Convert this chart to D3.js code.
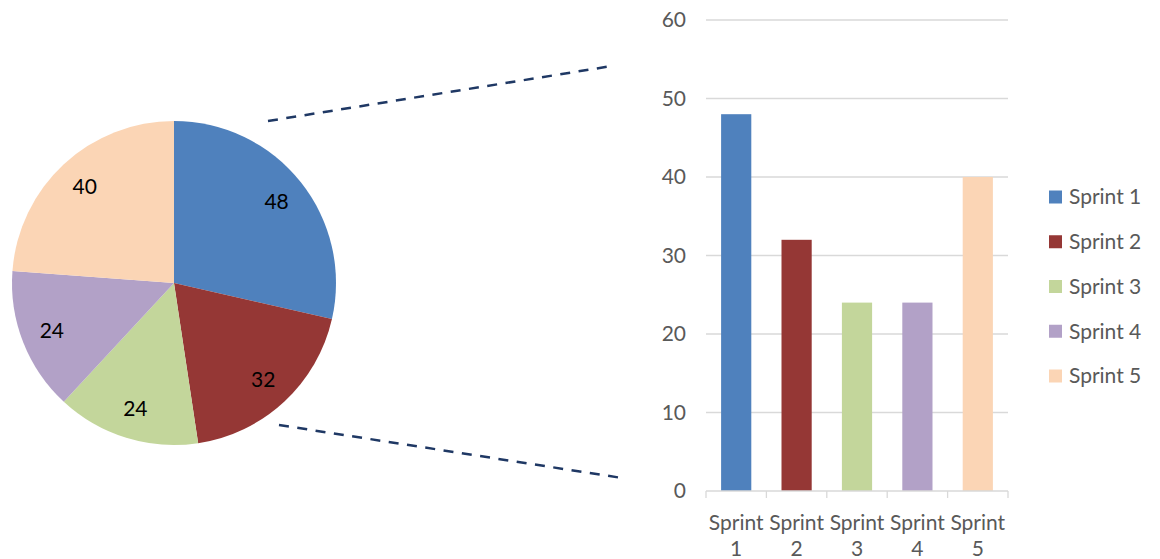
<!DOCTYPE html>
<html><head><meta charset="utf-8">
<script src="https://cdn.jsdelivr.net/npm/d3@7"></script>
<style>body{margin:0;background:#fff}svg{display:block}</style>
</head><body>
<svg id="c" width="1160" height="559"></svg>
<script>
const categories = ["Sprint 1","Sprint 2","Sprint 3","Sprint 4","Sprint 5"];
const values = [48, 32, 24, 24, 40];
const colors = ["#4F81BD","#953735","#C3D69B","#B2A1C7","#FBD5B5"];
const yTicks = [0,10,20,30,40,50,60];

const svg = d3.select("#c");
const font = "Lato, 'Noto Sans', sans-serif";

// Pie
const cx = 174, cy = 283, R = 162;
const pie = d3.pie().sort(null).value(d => d)(values);
const arc = d3.arc().innerRadius(0).outerRadius(R);
const lab = d3.arc().innerRadius(R*0.81).outerRadius(R*0.81);
const pg = svg.append("g").attr("transform", `translate(${cx},${cy})`);
pg.selectAll("path").data(pie).join("path").attr("d", arc).attr("fill", (d,i)=>colors[i]);
pg.selectAll("text").data(pie).join("text")
  .attr("transform", d => `translate(${lab.centroid(d)})`)
  .attr("text-anchor","middle").attr("dy","0.35em")
  .style("font-family", font).style("font-size","21px").attr("fill","#000")
  .text(d => d.data);

// Bar chart
const x = d3.scaleBand().domain(categories).range([706,1008]).paddingInner(0.5).paddingOuter(0.25);
const y = d3.scaleLinear().domain([0,60]).range([491,20]);
const bg = svg.append("g");
bg.selectAll("line.grid").data(yTicks.slice(1)).join("line").attr("class","grid")
  .attr("x1",706).attr("x2",1008).attr("y1",d=>y(d)).attr("y2",d=>y(d))
  .attr("stroke","#D9D9D9").attr("stroke-width",1.3);
bg.selectAll("rect").data(values).join("rect")
  .attr("x",(d,i)=>x(categories[i])).attr("width",x.bandwidth())
  .attr("y",d=>y(d)).attr("height",d=>y(0)-y(d)).attr("fill",(d,i)=>colors[i]);
// x axis
bg.append("line").attr("x1",706).attr("x2",1008).attr("y1",y(0)).attr("y2",y(0)).attr("stroke","#D9D9D9").attr("stroke-width",1.3);
const bounds = d3.range(categories.length+1).map(i => 706 + i*(302/categories.length));
bg.selectAll("line.tk").data(bounds).join("line").attr("class","tk")
  .attr("x1",d=>d).attr("x2",d=>d).attr("y1",y(0)).attr("y2",y(0)+7).attr("stroke","#D9D9D9").attr("stroke-width",1.3);
// y labels
bg.selectAll("text.yl").data(yTicks).join("text").attr("class","yl")
  .attr("x",686).attr("y",d=>y(d)).attr("dy","0.35em").attr("text-anchor","end")
  .style("font-family",font).style("font-size","21px").attr("fill","#595959").text(d=>d);
// x labels (two lines)
const xl = bg.selectAll("text.xl").data(categories).join("text").attr("class","xl")
  .attr("text-anchor","middle").style("font-family",font).style("font-size","21px").attr("fill","#595959");
xl.append("tspan").attr("x",d=>x(d)+x.bandwidth()/2).attr("y",530).text(d=>d.split(" ")[0]);
xl.append("tspan").attr("x",d=>x(d)+x.bandwidth()/2).attr("y",556).text(d=>d.split(" ")[1]);

// Legend
const lg = svg.append("g");
const ly = d3.scalePoint().domain(categories).range([197,376]);
lg.selectAll("rect").data(categories).join("rect")
  .attr("x",1049).attr("y",d=>ly(d)-6.5).attr("width",13).attr("height",13).attr("fill",(d,i)=>colors[i]);
lg.selectAll("text").data(categories).join("text")
  .attr("x",1069).attr("y",d=>ly(d)).attr("dy","0.35em")
  .style("font-family",font).style("font-size","21px").attr("fill","#595959").text(d=>d);

// connector lines
const conn = [[[268,121],[612,66]],[[279,425],[622,478]]];
svg.selectAll("line.conn").data(conn).join("line").attr("class","conn")
  .attr("x1",d=>d[0][0]).attr("y1",d=>d[0][1]).attr("x2",d=>d[1][0]).attr("y2",d=>d[1][1])
  .attr("stroke","#1F3864").attr("stroke-width",2.5).attr("stroke-dasharray","10,8.5");
</script>
</body></html>
